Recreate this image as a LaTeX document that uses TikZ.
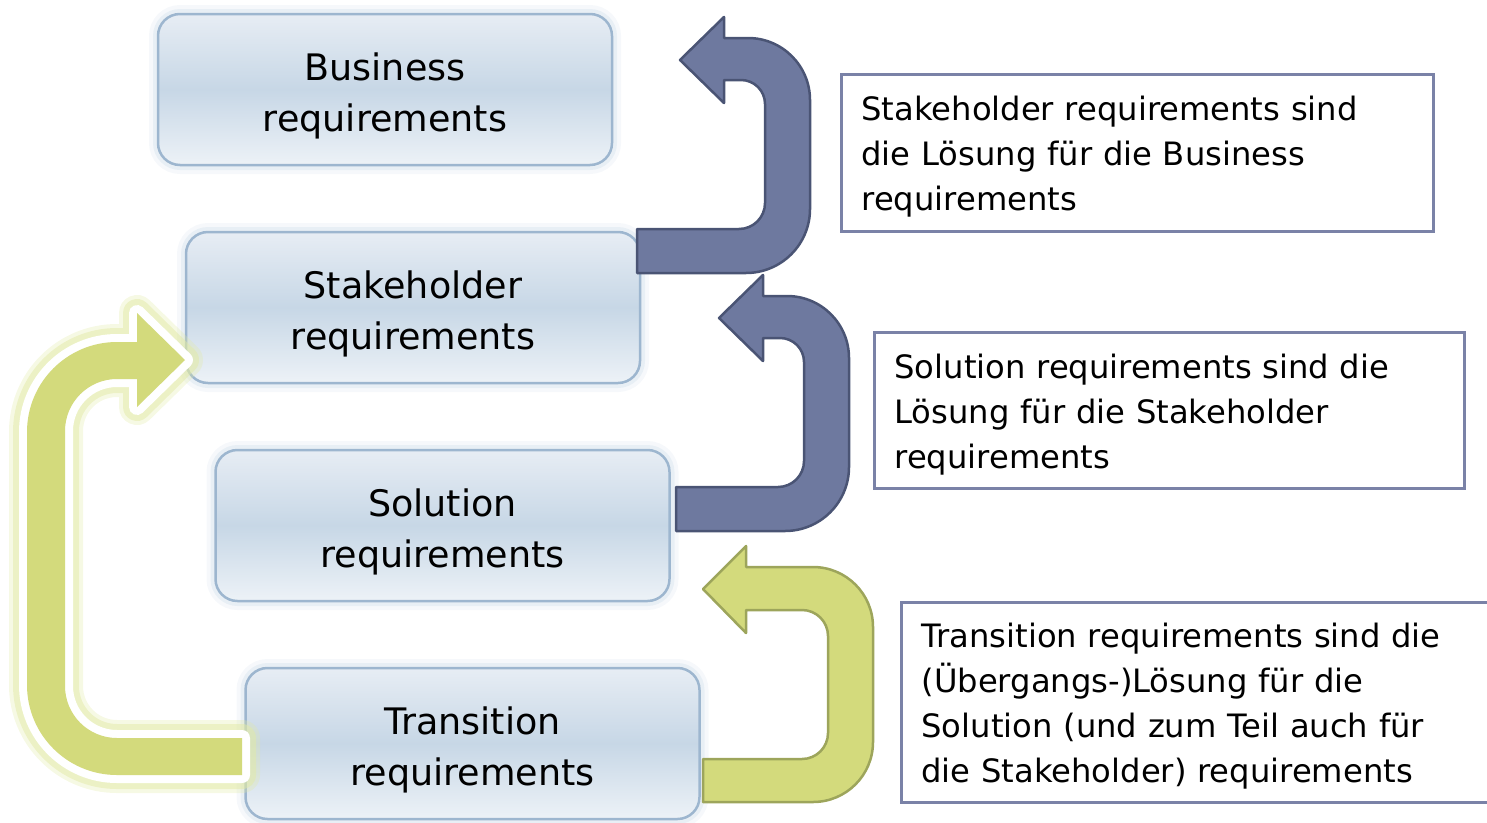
\documentclass[tikz,border=0pt]{standalone}
\usepackage{fontspec}
\setmainfont{DejaVu Sans}
\usepackage{xcolor}
\definecolor{boxtop}{HTML}{E7EDF4}
\definecolor{boxmid}{HTML}{C7D7E6}
\definecolor{boxbot}{HTML}{EDF2F7}
\definecolor{boxline}{HTML}{9DB6CF}
\definecolor{boxglow}{HTML}{B3C8DD}
\definecolor{arrowblue}{HTML}{6E799F}
\definecolor{arrowblueline}{HTML}{4A5474}
\definecolor{arrowgreen}{HTML}{D3DA7C}
\definecolor{arrowgreenline}{HTML}{9DA55B}
\definecolor{glowgreen}{HTML}{E2EAA6}
\definecolor{infoline}{HTML}{7A82A7}

\begin{document}
\begin{tikzpicture}[x=1pt,y=-1pt,
  reqbox/.style={draw=boxline, line width=2.5, rounded corners=22,
    top color=boxtop, bottom color=boxbot, middle color=boxmid,
    preaction={draw=boxglow, line width=18, opacity=0.12},
    preaction={draw=boxglow, line width=10, opacity=0.2},
    minimum width=454, minimum height=151, align=center,
    text height=84pt, text depth=0pt,
    font=\fontsize{36.5}{51}\selectfont},
  infobox/.style={draw=infoline, line width=3, fill=white, align=left,
    inner xsep=20, text height=32.5pt, font=\fontsize{32.2}{45}\selectfont},
  blueshape/.style={fill=arrowblue, draw=arrowblueline, line width=2.5, line join=round},
  greenshape/.style={fill=arrowgreen, draw=arrowgreenline, line width=2.5, line join=round},
  glowshape/.style={fill=arrowgreen,
    preaction={draw=glowgreen, line width=36, opacity=0.3, line join=round},
    preaction={draw=glowgreen, line width=28, opacity=0.5, line join=round},
    preaction={draw=white, line width=16, line join=round}}]
\useasboundingbox (0,0) rectangle (1487,822);

% requirement boxes
\node[reqbox] (business)    at (385,89.5)    {Business\\requirements};
\node[reqbox] (stakeholder) at (413,307.5)   {Stakeholder\\requirements};
\node[reqbox] (solution)    at (442.5,525.5) {Solution\\requirements};
\node[reqbox] (transition)  at (472.5,743.5) {Transition\\requirements};

% blue u-turn arrows
\foreach \dx/\dy in {0/0,39/258}{
  \begin{scope}[shift={(\dx,\dy)}]
    \draw[blueshape] (637,229) -- (739,229) arc[start angle=90,end angle=0,radius=26]
      -- (765,104) arc[start angle=0,end angle=-90,radius=24]
      -- (724,80) -- (724,103) -- (680,60) -- (724,17) -- (724,38)
      -- (748,38) arc[start angle=-90,end angle=0,radius=62]
      -- (810,209) arc[start angle=0,end angle=90,radius=64]
      -- (637,273) -- cycle;
  \end{scope}
}

% green u-turn arrow on the right
\draw[greenshape] (703,759) -- (802,759) arc[start angle=90,end angle=0,radius=26]
  -- (828,636) arc[start angle=0,end angle=-90,radius=26]
  -- (746,610) -- (746,633) -- (703,589) -- (746,546) -- (746,567)
  -- (813,567) arc[start angle=-90,end angle=0,radius=60]
  -- (873,742) arc[start angle=0,end angle=90,radius=60]
  -- (703,802) -- cycle;

% big green arrow on the left
\path[glowshape] (242,738) -- (117,738) arc[start angle=90,end angle=180,radius=52]
  -- (65,431) arc[start angle=180,end angle=270,radius=52]
  -- (137,379) -- (137,407) -- (185,360) -- (137,313) -- (137,342)
  -- (117,342) arc[start angle=270,end angle=180,radius=90]
  -- (27,685) arc[start angle=180,end angle=90,radius=90]
  -- (242,775) -- cycle;

% explanations
\node[infobox, anchor=north west, minimum width=592, minimum height=157, text width=552] (note1) at (840,73)
  {Stakeholder requirements sind\\die Lösung für die Business\\requirements};
\node[infobox, anchor=north west, minimum width=590, minimum height=156, text width=550] (note2) at (873,331)
  {Solution requirements sind die\\Lösung für die Stakeholder\\requirements};
\node[infobox, anchor=north west, minimum width=600, minimum height=200, text width=560] (note3) at (900,601)
  {Transition requirements sind die\\(Übergangs-)Lösung für die\\Solution (und zum Teil auch für\\die Stakeholder) requirements};
\end{tikzpicture}
\end{document}
